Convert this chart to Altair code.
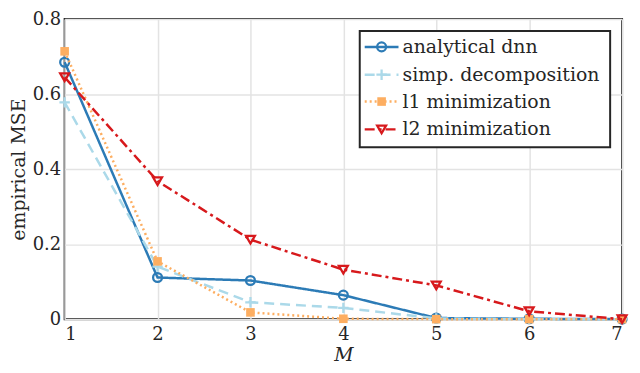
import altair as alt
import pandas as pd

M = [1, 2, 3, 4, 5, 6, 7]
series_names = ["analytical dnn", "simp. decomposition", "l1 minimization", "l2 minimization"]
analytical = [0.685, 0.111, 0.103, 0.064, 0.003, 0.001, 0.0]
simp = [0.578, 0.140, 0.045, 0.030, 0.002, 0.0, 0.0]
l1 = [0.714, 0.154, 0.018, 0.001, 0.0, 0.0, 0.0]
l2 = [0.645, 0.368, 0.212, 0.132, 0.090, 0.021, 0.0]
values = [analytical, simp, l1, l2]

colors = ["#2c7bb6", "#abd9e9", "#fdae61", "#d7191c"]
dashes = [[1, 0], [10, 6], [2, 3], [10, 4, 3, 4]]
PLUS = "M-1,0L1,0M0,-1L0,1"
shapes = ["circle", PLUS, "square", "triangle-down"]
filled = [False, False, True, False]

FONT = "DejaVu Serif"

xs = alt.Scale(domain=[1, 7], nice=False)
ys = alt.Scale(domain=[0, 0.8], nice=False)


def marker(chart, s, c, f):
    if f:
        return chart.mark_point(shape=s, color=c, filled=True, size=75, opacity=1, clip=False)
    return chart.mark_point(shape=s, color=c, filled=False, size=80 if s != PLUS else 110,
                            strokeWidth=2.3, opacity=1, clip=False)


layers = []
for name, vals, c, d, s, f in zip(series_names, values, colors, dashes, shapes, filled):
    df = pd.DataFrame({"M": M, "MSE": vals, "series": name})
    base = alt.Chart(df).encode(
        x=alt.X("M:Q", scale=xs, title="M",
                axis=alt.Axis(values=M, format="d")),
        y=alt.Y("MSE:Q", scale=ys, title="empirical MSE",
                axis=alt.Axis(values=[0, 0.2, 0.4, 0.6, 0.8], format=".1~f")),
    )
    layers.append(base.mark_line(color=c, strokeDash=d, strokeWidth=2.5, clip=False))
    layers.append(marker(base, s, c, f))

# legend (manual, inside the plot, pixel offsets relative to the plot area)
lx0, lx1, ly0, ly1 = 297, 549, 12, 129
layers.append(alt.Chart().mark_rect(fill="white", stroke="#262626", strokeWidth=2).encode(
    x=alt.value(lx0), x2=alt.value(lx1), y=alt.value(ly0), y2=alt.value(ly1)))
row_y = [28, 56, 83, 111]
for name, c, d, s, f, ry in zip(series_names, colors, dashes, shapes, filled, row_y):
    layers.append(alt.Chart().mark_rule(color=c, strokeDash=d, strokeWidth=2.5).encode(
        x=alt.value(302), x2=alt.value(336), y=alt.value(ry)))
    layers.append(marker(alt.Chart(), s, c, f).encode(x=alt.value(319), y=alt.value(ry)))
    layers.append(alt.Chart().mark_text(text=name, align="left", baseline="middle", font=FONT,
                                        fontSize=19, color="#262626").encode(
        x=alt.value(340), y=alt.value(ry)))

chart = alt.layer(*layers).properties(
    width=628, height=358,
    autosize=alt.AutoSizeParams(type="fit", contains="padding"),
    padding={"left": 1, "right": 0, "top": 1, "bottom": 0},
).configure_view(
    stroke="#262626", strokeWidth=2
).configure_axis(
    labelFont=FONT, titleFont=FONT, labelFontSize=18, titleFontSize=19,
    labelColor="#262626", titleColor="#262626", titleFontWeight="normal",
    grid=True, gridColor="#e3e3e3", gridWidth=1.5,
    domain=False, ticks=False,
).configure_axisX(
    titleFontStyle="italic", titlePadding=3, labelPadding=6,
).configure_axisY(
    titlePadding=4, labelPadding=4,
)

chart.save("out.html", embed_options={"renderer": "svg", "actions": False})
